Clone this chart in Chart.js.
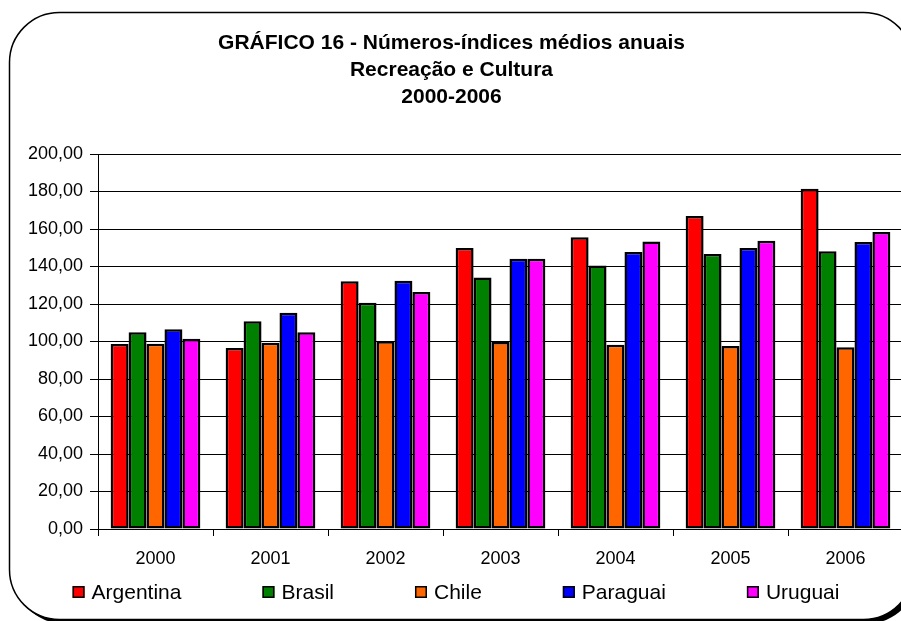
<!DOCTYPE html>
<html lang="pt">
<head>
  <meta charset="UTF-8">
  <title>Gráfico 16</title>
  <script src="https://cdn.jsdelivr.net/npm/chart.js"></script>
  <style>
    html, body {
      margin: 0;
      padding: 0;
      background: #fff;
      overflow: hidden;
    }
    #wrap {
      width: 901px;
      height: 621px;
      overflow: hidden;
    }
  </style>
</head>
<body>
  <div id="wrap">
    <canvas id="chart" width="912" height="621"></canvas>
  </div>

  <script>
    const years = ['2000', '2001', '2002', '2003', '2004', '2005', '2006'];
    const titleLines = ['GRÁFICO 16 - Números-índices médios anuais', 'Recreação e Cultura', '2000-2006'];

    const argentina = [98.7, 96.5, 132.1, 149.9, 155.6, 166.9, 181.5];
    const brasil    = [105.0, 110.8, 120.7, 134.2, 140.6, 146.7, 148.1];
    const chile     = [98.8, 99.4, 100.1, 99.7, 98.3, 97.6, 96.9];
    const paraguai  = [106.5, 115.4, 132.4, 144.2, 147.7, 149.9, 153.1];
    const uruguai   = [101.5, 105.0, 126.4, 144.2, 153.4, 153.8, 158.4];

    const yTicks = [0, 20, 40, 60, 80, 100, 120, 140, 160, 180, 200];

    const FONT = 'Liberation Sans, Arial, sans-serif';

    function series(label, data, color) {
      return {
        label,
        data,
        backgroundColor: color,
        borderColor: '#000',
        borderWidth: 2.5,
        borderSkipped: false,
        barPercentage: 1,
        categoryPercentage: 0.78
      };
    }

    // rounded frame with a dark shadow on the bottom-right, like the spreadsheet export
    const framePlugin = {
      id: 'frame',
      beforeDraw(chart) {
        const ctx = chart.ctx;
        const x = 9.5, y = 12.5, w = 904, h = 607, r = 50;
        ctx.save();
        ctx.fillStyle = '#fff';
        ctx.fillRect(0, 0, chart.width, chart.height);
        ctx.fillStyle = '#000';
        ctx.beginPath();
        ctx.roundRect(x + 4, y + 4, w, h, r);
        ctx.fill();
        ctx.fillStyle = '#fff';
        ctx.beginPath();
        ctx.roundRect(x, y, w, h, r);
        ctx.fill();
        ctx.lineWidth = 1.5;
        ctx.strokeStyle = '#000';
        ctx.stroke();
        ctx.restore();
      }
    };

    // legend drawn by hand: Excel spaces the items wider than Chart.js would
    const legendPlugin = {
      id: 'sheetLegend',
      afterDraw(chart) {
        const ctx = chart.ctx;
        const sets = chart.data.datasets;
        const box = 12, gapBox = 7, gapItem = 81, cy = 592;
        ctx.save();
        ctx.font = '21px ' + FONT;
        const widths = sets.map(ds => box + gapBox + ctx.measureText(ds.label).width);
        const total = widths.reduce((a, b) => a + b, 0) + gapItem * (sets.length - 1);
        let x = 456 - total / 2;
        sets.forEach((ds, i) => {
          ctx.fillStyle = ds.backgroundColor;
          ctx.fillRect(x, cy - box / 2, box, box);
          ctx.lineWidth = 1.5;
          ctx.strokeStyle = '#000';
          ctx.strokeRect(x + 0.75, cy - box / 2 + 0.75, box - 1.5, box - 1.5);
          ctx.fillStyle = '#000';
          ctx.textBaseline = 'middle';
          ctx.textAlign = 'left';
          ctx.fillText(ds.label, x + box + gapBox, cy + 1);
          x += widths[i] + gapItem;
        });
        ctx.restore();
      }
    };

    new Chart(document.getElementById('chart'), {
      type: 'bar',
      data: {
        labels: years,
        datasets: [
          series('Argentina', argentina, '#FF0000'),
          series('Brasil', brasil, '#008000'),
          series('Chile', chile, '#FF6600'),
          series('Paraguai', paraguai, '#0000FF'),
          series('Uruguai', uruguai, '#FF00FF')
        ]
      },
      options: {
        responsive: false,
        animation: false,
        layout: {
          padding: { left: 0, right: 9, top: 0, bottom: 52 }
        },
        plugins: {
          legend: { display: false },
          tooltip: { enabled: false },
          title: {
            display: true,
            text: titleLines,
            color: '#000',
            font: { family: FONT, size: 21, weight: 'bold', lineHeight: '27px' },
            padding: { top: 29.5, bottom: 43.5 }
          }
        },
        scales: {
          x: {
            grid: {
              display: true,
              drawOnChartArea: false,
              drawTicks: true,
              tickLength: 7,
              color: '#000'
            },
            border: { display: true, color: '#000', width: 1 },
            ticks: {
              color: '#000',
              padding: 12,
              font: { family: FONT, size: 18 }
            },
            afterFit(scale) { scale.height = 40; }
          },
          y: {
            min: 0,
            max: 200,
            afterBuildTicks(scale) {
              scale.ticks = yTicks.map(v => ({ value: v }));
            },
            grid: {
              color: '#000',
              lineWidth: 1,
              drawTicks: true,
              tickLength: 8
            },
            border: { display: true, color: '#000', width: 1 },
            ticks: {
              color: '#000',
              padding: 7,
              font: { family: FONT, size: 18 },
              callback: v => v.toFixed(2).replace('.', ',')
            },
            afterFit(scale) { scale.width = 98; }
          }
        }
      },
      plugins: [framePlugin, legendPlugin]
    });
  </script>
</body>
</html>
